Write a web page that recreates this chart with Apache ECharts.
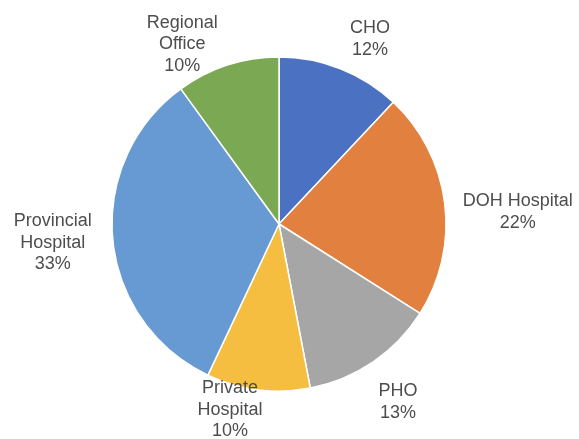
<!DOCTYPE html>
<html>
<head>
<meta charset="utf-8">
<script src="https://cdn.jsdelivr.net/npm/echarts@6/dist/echarts.min.js"></script>
<style>
  html, body { margin: 0; padding: 0; background: #ffffff; }
  #chart { width: 579px; height: 439px; }
</style>
</head>
<body>
<div id="chart"></div>
<script>
// Share of reports by source (percent), clockwise from 12 o'clock
const categories = ['CHO', 'DOH Hospital', 'PHO', 'Private\nHospital', 'Provincial\nHospital', 'Regional\nOffice'];
const shares = [12, 22, 13, 10, 33, 10];
const sliceColors = ['#4a71c2', '#e2813f', '#a6a6a6', '#f5be40', '#6799d3', '#7aa853'];

// label placement around the pie: bearing (degrees clockwise from 12 o'clock) and distance from centre
const labelBearing = [26.2, 87.1, 146.2, 194.8, 265.2, 331.7];
const labelDistance = [206, 239, 214, 192, 227, 204];

const CX = 279, CY = 224, R = 167;

const chart = echarts.init(document.getElementById('chart'), null, { renderer: 'canvas' });

chart.setOption({
  backgroundColor: '#ffffff',
  animation: false,
  series: [{
    type: 'pie',
    center: [CX, CY],
    radius: [0, R],
    startAngle: 90,
    clockwise: true,
    avoidLabelOverlap: false,
    itemStyle: { borderColor: '#ffffff', borderWidth: 1.5 },
    label: {
      show: true,
      position: 'outside',
      formatter: p => p.name + '\n' + p.value + '%',
      fontFamily: '"Liberation Sans", Arial, sans-serif',
      fontSize: 18,
      lineHeight: 21.5,
      color: '#4d4d4d',
      align: 'center'
    },
    labelLine: { show: false },
    labelLayout: function (p) {
      const a = labelBearing[p.dataIndex] * Math.PI / 180;
      const d = labelDistance[p.dataIndex];
      return { x: CX + d * Math.sin(a), y: CY - d * Math.cos(a), align: 'center', verticalAlign: 'middle' };
    },
    data: categories.map((name, i) => ({
      name: name,
      value: shares[i],
      itemStyle: { color: sliceColors[i] }
    }))
  }]
});
</script>
</body>
</html>
